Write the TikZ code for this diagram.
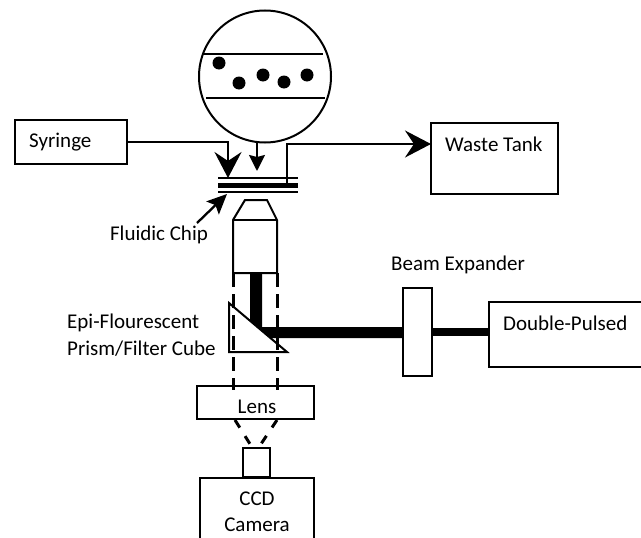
\documentclass[tikz,border=0pt]{standalone}
\usepackage{fontspec}
\setmainfont{Carlito}
\usetikzlibrary{arrows.meta}
\tikzset{
  box/.style={draw, line width=2pt, inner sep=0pt},
  txt/.style={inner sep=0pt, font=\fontsize{21}{21}\selectfont},
  pipe/.style={line width=2pt},
  bigtip/.style={-{Stealth[length=26pt,width=27pt,inset=9pt]}},
  imgray/.style={line width=3pt, dash pattern=on 14pt off 7pt},
}
\begin{document}
\begin{tikzpicture}[x=1pt,y=-1pt]
\useasboundingbox (0,0) rectangle (641,538);

% Lupe
\node[box, circle, minimum size=132pt] (zoomview) at (265,76.5) {};
\draw[pipe] (203,54) -- (323,54);
\draw[pipe] (206,98) -- (325,98);
\foreach \px/\py in {219/63, 239/83, 263/75, 284/82, 307/75}
  \fill (\px,\py) circle (6.5pt);

% Kasten
\node[box, minimum width=112pt, minimum height=44pt] (syringe) at (71,142) {};
\node[txt, anchor=west] (syringetxt) at (29,142) {Syringe};
\node[box, minimum width=127pt, minimum height=71pt] (waste) at (494.5,158.5) {};
\node[txt, anchor=west] (wastetxt) at (445,144) {Waste Tank};
\node[box, minimum width=29pt, minimum height=88pt] (expander) at (417.5,332) {};
\node[txt, anchor=west] (expandertxt) at (391,265) {Beam Expander};
\node[box, minimum width=160pt, minimum height=65pt] (pulsed) at (569,334.5) {};
\node[txt, anchor=west] (pulsedtxt) at (503,323) {Double-Pulsed};

% Chip
\draw[pipe] (218,178) -- (298,178);
\draw[line width=5pt] (218,185) -- (298,185);
\draw[pipe] (218,192) -- (298,192);
\node[txt] (chiptxt) at (159,235) {Fluidic Chip};
\coordinate (chipin) at (228,178);
\coordinate (chipout) at (287,183);
\coordinate (chipmid) at (257,171);
\coordinate (chipedge) at (227,194);
\coordinate (chipfrom) at (197,223);
\coordinate (wastein) at (431,144);
\coordinate (zoomout) at (257,142);

% Leitungen
\draw[pipe, bigtip] (syringe.east) -| (chipin);
\draw[pipe, bigtip] (chipout) |- (wastein);
\draw[line width=2pt, -{Stealth[length=16pt,width=16pt,inset=2pt]}] (zoomout) -- (chipmid);
\draw[line width=2.3pt, -{Stealth[length=20pt,width=18pt,inset=4pt]}] (chipfrom) -- (chipedge);

% Objektiv
\draw[box] (233,273) -- (233,220) -- (245,200) -- (267,200) -- (277,220) -- (277,273) -- cycle;
\draw[box] (233,220) -- (277,220);

% Strahl
\fill (250,273) -- (262,273) -- (262,327) -- (403,327) -- (403,338) -- (270,338) -- (250,321) -- cycle;
\draw[line width=8pt] (expander.east) -- (expander.east -| pulsed.west);

% Prisma
\draw[box] (229,303) -- (287,352) -- (229,352) -- cycle;
\node[txt, anchor=west] (epitxt) at (67,323) {Epi-Flourescent};
\node[txt, anchor=west] (prismtxt) at (67,349) {Prism/Filter Cube};

% Kamera
\node[box, minimum width=117pt, minimum height=33pt] (lens) at (255.5,402.5) {};
\node[txt] (lenstxt) at (257,407) {Lens};
\node[box, minimum width=27pt, minimum height=29pt] (snout) at (256.5,462.5) {};
\node[box, minimum width=114pt, minimum height=70pt] (ccd) at (257,513) {};
\node[txt] (ccdtxt) at (257,499) {CCD};
\node[txt] (cameratxt) at (257,525) {Camera};

% Abbildung
\draw[imgray] (233,273) -- (233,390);
\draw[imgray] (277,273) -- (277,390);
\draw[line width=3pt, dash pattern=on 9pt off 10pt] (235,420) -- (250,444);
\draw[line width=3pt, dash pattern=on 9pt off 10pt] (277,420) -- (261,444);

\end{tikzpicture}
\end{document}
